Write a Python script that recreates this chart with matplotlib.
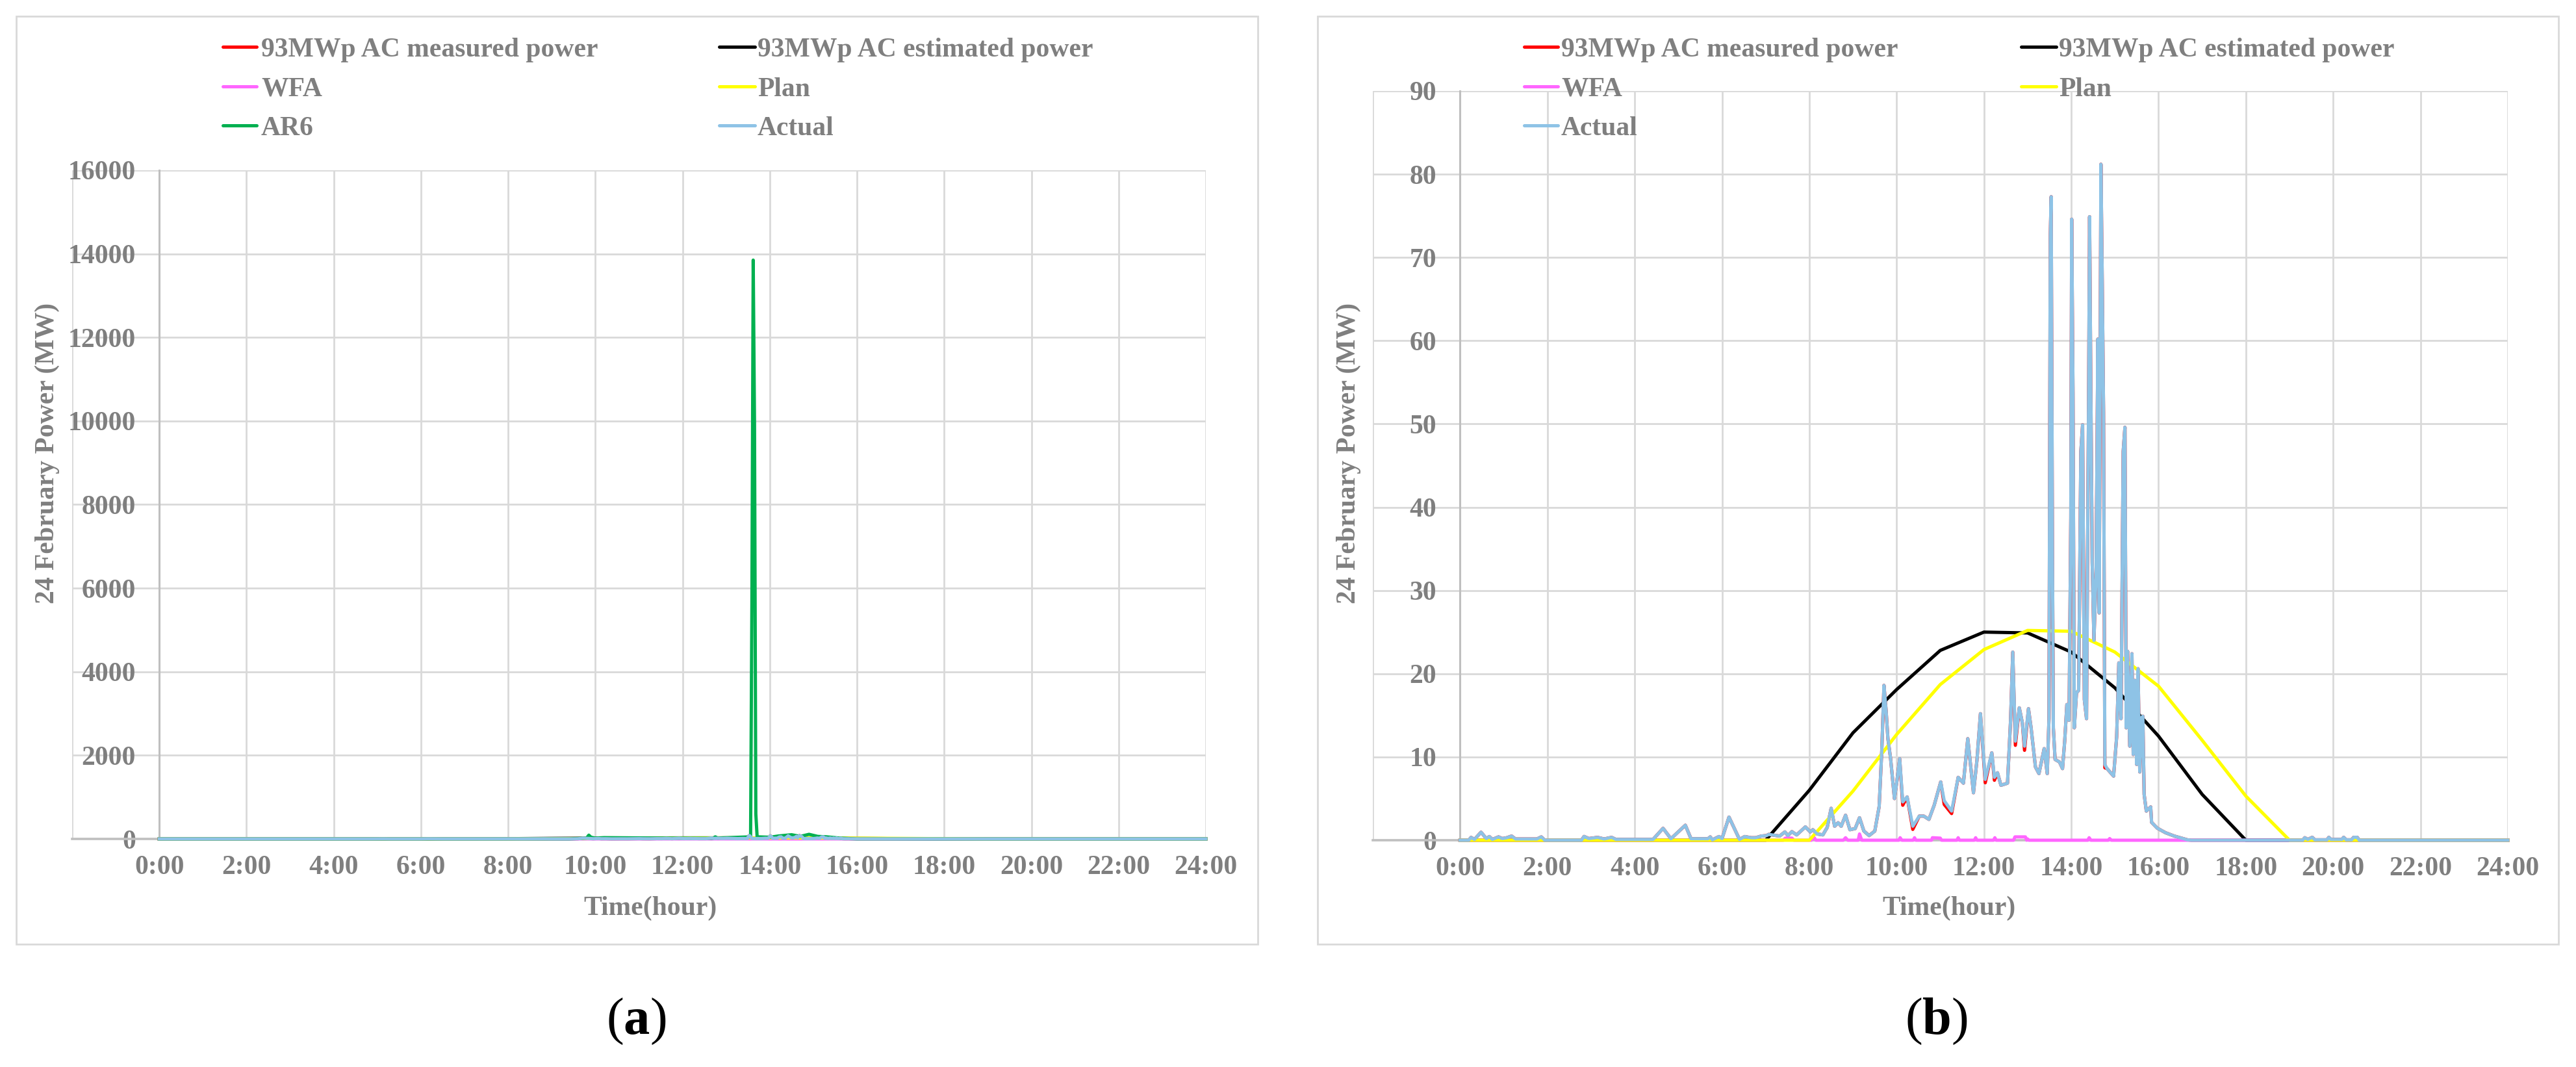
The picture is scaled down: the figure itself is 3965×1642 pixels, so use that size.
import matplotlib
matplotlib.use("Agg")
import matplotlib.pyplot as plt
from matplotlib.lines import Line2D
from matplotlib.patches import Rectangle

plt.rcParams['font.family'] = ['Liberation Serif', 'DejaVu Serif']
plt.rcParams['mathtext.fontset'] = 'custom'
plt.rcParams['mathtext.rm'] = 'Liberation Serif'
plt.rcParams['mathtext.bf'] = 'Liberation Serif:bold'

# ---------------- data ----------------
hour_ticks = [0, 2, 4, 6, 8, 10, 12, 14, 16, 18, 20, 22, 24]
hour_labels = ["0:00", "2:00", "4:00", "6:00", "8:00", "10:00", "12:00",
               "14:00", "16:00", "18:00", "20:00", "22:00", "24:00"]

hourly_t = [0, 1, 2, 3, 4, 5, 6, 7, 8, 9, 10, 11, 12, 13, 14, 15, 16, 17, 18,
            19, 20, 21, 22, 23, 24]
estimated_v = [0, 0, 0, 0, 0, 0, 0, 0, 6.0, 12.9, 18.1, 22.8, 25.0, 24.9, 22.6,
               18.3, 12.5, 5.5, 0, 0, 0, 0, 0, 0, 0]
plan_v = [0, 0, 0, 0, 0, 0, 0, 0, 0, 5.9, 12.7, 18.7, 22.9, 25.2, 25.1, 22.6,
          18.5, 12.0, 5.3, 0, 0, 0, 0, 0, 0]

actual_t = [0.00, 0.20, 0.25, 0.33, 0.48, 0.60, 0.67, 0.74, 0.88, 0.97, 1.07,
            1.18, 1.27, 1.76, 1.86, 1.94, 2.78, 2.84, 2.95, 3.15, 3.30, 3.47,
            3.57, 4.42, 4.65, 4.83, 5.16, 5.29, 5.68, 5.73, 5.78, 5.93, 6.00,
            6.16, 6.40, 6.52, 6.67, 6.77, 6.90, 7.02, 7.07, 7.20, 7.32, 7.44,
            7.51, 7.60, 7.71, 7.91, 8.02, 8.08, 8.18, 8.31, 8.41, 8.50, 8.58,
            8.66, 8.73, 8.83, 8.93, 9.05, 9.15, 9.25, 9.37, 9.50, 9.60, 9.66,
            9.71, 9.76, 9.80, 9.86, 9.95, 10.00, 10.07, 10.14, 10.24, 10.37,
            10.52, 10.62, 10.74, 10.86, 11.01, 11.09, 11.26, 11.41, 11.53,
            11.63, 11.76, 11.84, 11.92, 12.03, 12.18, 12.24, 12.31, 12.39,
            12.54, 12.61, 12.66, 12.72, 12.81, 12.88, 12.93, 13.02, 13.08,
            13.18, 13.26, 13.38, 13.45, 13.49, 13.52, 13.54, 13.57, 13.59,
            13.63, 13.73, 13.80, 13.85, 13.90, 13.95, 13.99, 14.01, 14.04,
            14.07, 14.12, 14.17, 14.22, 14.26, 14.30, 14.35, 14.40, 14.42,
            14.45, 14.48, 14.52, 14.57, 14.61, 14.64, 14.68, 14.71, 14.74,
            14.77, 14.82, 14.87, 14.97, 15.04, 15.09, 15.14, 15.19, 15.23,
            15.26, 15.29, 15.34, 15.39, 15.42, 15.46, 15.50, 15.53, 15.57,
            15.61, 15.64, 15.67, 15.72, 15.82, 15.84, 15.97, 16.16, 16.36,
            16.66, 16.75, 19.30, 19.35, 19.42, 19.52, 19.58, 19.86, 19.90,
            19.95, 20.20, 20.24, 20.30, 20.42, 20.47, 20.55, 20.60, 24.00]
actual_v = [0, 0, 0.34, 0.1, 0.96, 0.2, 0.44, 0.1, 0.4, 0.2, 0.3,
            0.5, 0.15, 0.15, 0.4, 0, 0, 0.45, 0.2, 0.34, 0.15, 0.34,
            0.1, 0.1, 1.43, 0.18, 1.8, 0.18, 0.18, 0.4, 0.05, 0.44, 0.2,
            2.78, 0.1, 0.44, 0.3, 0.3, 0.5, 0.56, 0.7, 0.6, 0.5, 1.0,
            0.56, 1.03, 0.64, 1.6, 1.0, 1.26, 0.75, 0.64, 1.54, 3.83, 1.68,
            2.1, 1.68, 3.0, 1.26, 1.4, 2.7, 1.1, 0.56, 1.1, 4.05, 10.8,
            18.6, 15.5, 12.2, 9.9, 5.0, 6.85, 9.8, 4.6, 5.2, 1.68,
            2.9, 2.9, 2.5, 4.2, 7.0, 4.75, 3.5, 7.55, 6.85,
            12.2, 5.7, 9.6, 15.2, 7.3, 10.5, 7.55, 8.1, 6.6,
            6.85, 14.4, 22.6, 11.9, 15.9, 14.1, 11.3, 15.8, 13.5,
            8.8, 8.0, 11.0, 8.0, 14.6, 72.6, 77.3, 34.0, 13.5,
            9.7, 9.4, 8.6, 11.9, 16.3, 14.4, 38.7, 74.6, 53.6,
            13.5, 17.7, 18.0, 46.7, 49.9, 16.9, 14.6, 55.2, 74.9,
            53.3, 33.4, 24.0, 32.3, 60.2, 27.3, 81.2, 67.1, 51.4,
            9.1, 8.6, 8.3, 7.7, 12.4, 21.3, 14.6, 46.7, 49.6,
            13.5, 22.7, 11.3, 22.4, 10.3, 19.2, 9.1, 20.6, 8.2,
            14.7, 14.9, 5.5, 3.5, 4.0, 2.15, 1.45, 0.9, 0.5,
            0.05, 0, 0, 0.3, 0.1, 0.35, 0.05, 0.05, 0.35,
            0.1, 0.1, 0.35, 0.05, 0.05, 0.35, 0.35, 0, 0]
measured_v = [0, 0, 0.34, 0.1, 0.96, 0.2, 0.44, 0.1, 0.4, 0.2, 0.3,
              0.5, 0.15, 0.15, 0.4, 0, 0, 0.45, 0.2, 0.34, 0.15, 0.34,
              0.1, 0.1, 1.43, 0.18, 1.8, 0.18, 0.18, 0.4, 0.05, 0.44, 0.2,
              2.78, 0.1, 0.44, 0.3, 0.3, 0.5, 0.56, 0.7, 0.6, 0.5, 1.0,
              0.56, 1.03, 0.64, 1.6, 1.0, 1.26, 0.75, 0.64, 1.54, 3.83, 1.68,
              2.1, 1.68, 3.0, 1.26, 1.4, 2.7, 1.1, 0.56, 1.1, 4.05, 10.8,
              18.6, 15.5, 12.2, 9.9, 5.0, 6.85, 9.8, 4.2, 5.2, 1.3,
              2.9, 2.9, 2.5, 4.2, 7.0, 4.3, 3.2, 7.55, 6.85,
              12.2, 5.7, 9.6, 15.2, 6.9, 10.5, 7.2, 8.1, 6.6,
              6.85, 14.4, 22.6, 11.4, 15.9, 14.1, 10.8, 15.8, 13.5,
              8.8, 8.0, 11.0, 8.0, 14.6, 72.6, 77.3, 34.0, 13.5,
              9.7, 9.4, 8.6, 11.9, 16.3, 14.4, 38.7, 74.6, 53.6,
              13.5, 17.7, 18.0, 46.7, 49.9, 16.9, 14.6, 55.2, 74.9,
              53.3, 33.4, 24.0, 32.3, 60.2, 27.3, 81.2, 67.1, 51.4,
              8.7, 8.6, 8.3, 7.7, 12.4, 21.3, 14.6, 46.7, 49.6,
              13.5, 22.7, 11.3, 22.4, 10.3, 19.2, 9.1, 20.6, 8.2,
              14.7, 14.9, 5.5, 3.5, 4.0, 2.15, 1.45, 0.9, 0.5,
              0.05, 0, 0, 0.3, 0.1, 0.35, 0.05, 0.05, 0.35,
              0.1, 0.1, 0.35, 0.05, 0.05, 0.35, 0.35, 0, 0]

wfa_t = [0, 7.40, 7.45, 7.60, 7.65, 8.05, 8.10, 8.15, 8.78, 8.83, 8.88, 9.12,
         9.15, 9.20, 10.05, 10.08, 10.12, 10.38, 10.41, 10.44, 10.80, 10.82,
         11.00, 11.03, 11.38, 11.41, 11.44, 11.78, 11.81, 11.84, 12.22, 12.25,
         12.28, 12.68, 12.71, 12.95, 12.98, 13.00, 13.03, 14.38, 14.41, 14.45,
         14.85, 14.88, 14.92, 16.60, 24.0]
wfa_v = [0, 0, 0.25, 0.25, 0, 0, 0.4, 0, 0, 0.3, 0, 0,
         0.75, 0, 0, 0.3, 0, 0, 0.3, 0, 0, 0.3,
         0.25, 0, 0, 0.3, 0, 0, 0.3, 0, 0, 0.3,
         0, 0, 0.4, 0.4, 0, 0.15, 0, 0, 0.3, 0,
         0, 0.2, 0, 0, 0]

ar6_t = [0, 9.40, 9.80, 9.85, 9.90, 10.00, 10.20, 11.50, 12.70, 12.75, 12.80,
         13.30, 13.56, 13.59, 13.62, 13.65, 13.68, 13.71, 14.00, 14.20, 14.50,
         14.70, 14.90, 15.10, 15.30, 15.60, 16.00, 24.0]
ar6_v = [0, 0, 20, 90, 40, 20, 30, 20, 15, 50, 20,
         40, 50, 5630, 13850, 9890, 600, 50, 40, 70, 100,
         60, 110, 60, 50, 20, 0, 0]

yticks_a = [0, 2000, 4000, 6000, 8000, 10000, 12000, 14000, 16000]
yticks_b = [0, 10, 20, 30, 40, 50, 60, 70, 80, 90]

legend_a = ["93MWp AC measured power", "93MWp AC estimated power", "WFA",
            "Plan", "AR6", "Actual"]
legend_b = ["93MWp AC measured power", "93MWp AC estimated power", "WFA",
            "Plan", "Actual"]

# ---------------- styles ----------------
C_MEAS, C_EST, C_WFA, C_PLAN, C_AR6, C_ACT = ('#ff0000', '#000000', '#ff66ff',
                                              '#ffff00', '#00b050', '#8ec3e6')
TXT = '#7f7f7f'
GRID = '#d9d9d9'
AXL = '#bfbfbf'
LW = 3.6
FS = 30

W, H = 3965, 1642
fig = plt.figure(figsize=(W / 100, H / 100), dpi=100)


def fx(px):
    return px / W


def fy(py):
    return 1 - py / H


def make_axes(left, right, top, bottom):
    return fig.add_axes([fx(left), fy(bottom), fx(right) - fx(left),
                         fy(top) - fy(bottom)])


def style(ax, yticks, ymax):
    ax.set_xlim(-2, 24)
    ax.set_ylim(0, ymax)
    xt = [-2] + hour_ticks
    ax.set_xticks(xt, [""] + hour_labels)
    ax.set_yticks(yticks, [str(v) for v in yticks])
    ax.grid(True, color=GRID, lw=2.0)
    ax.set_axisbelow(True)
    for s in ['top', 'right']:
        ax.spines[s].set_visible(False)
    ax.spines['left'].set_position(('data', 0))
    ax.spines['left'].set_color(AXL)
    ax.spines['left'].set_linewidth(2.2)
    ax.spines['left'].set_zorder(0.6)
    ax.spines['bottom'].set_color(AXL)
    ax.spines['bottom'].set_linewidth(2.6)
    ax.spines['bottom'].set_zorder(0.6)
    ax.tick_params(axis='both', length=0, labelsize=FS, labelcolor=TXT)
    ax.tick_params(axis='x', pad=18)
    ax.tick_params(axis='y', pad=26)
    for lab in ax.get_xticklabels() + ax.get_yticklabels():
        lab.set_fontweight('bold')


def legend(entries, colors, col_x, row_y):
    for i, (lab, col) in enumerate(zip(entries, colors)):
        r, c = divmod(i, 2)
        hx0, hx1, tx = col_x[c]
        y = row_y[r]
        fig.add_artist(Line2D([fx(hx0), fx(hx1)], [fy(y), fy(y)], color=col,
                              lw=LW, solid_capstyle='round',
                              transform=fig.transFigure))
        fig.text(fx(tx), fy(y), lab, color=TXT, fontsize=FS, fontweight='bold',
                 va='center_baseline', ha='left')


# panel frames
for x0, x1 in [(25, 1936), (2028, 3938)]:
    fig.add_artist(Rectangle((fx(x0), fy(1453)), fx(x1) - fx(x0),
                             fy(25) - fy(1453), transform=fig.transFigure,
                             fill=False, edgecolor=GRID, lw=2.0))

# ---------------- panel (a) ----------------
axa = make_axes(111, 1856, 262, 1291)
style(axa, yticks_a, 16000)
axa.plot(actual_t, measured_v, color=C_MEAS, lw=LW, clip_on=False)
axa.plot(hourly_t, estimated_v, color=C_EST, lw=LW, clip_on=False)
axa.plot(wfa_t, wfa_v, color=C_WFA, lw=LW, clip_on=False)
axa.plot(hourly_t, plan_v, color=C_PLAN, lw=LW, clip_on=False)
axa.plot(ar6_t, ar6_v, color=C_AR6, lw=LW, clip_on=False)
axa.plot(actual_t, actual_v, color=C_ACT, lw=LW, clip_on=False)

fig.text(fx(73), fy(697), "24 February Power (MW)", rotation=90, color=TXT,
         fontsize=FS, fontweight='bold', ha='center', va='center')
fig.text(fx(1001), fy(1398), "Time(hour)", color=TXT, fontsize=FS,
         fontweight='bold', ha='center', va='center')
legend(legend_a, [C_MEAS, C_EST, C_WFA, C_PLAN, C_AR6, C_ACT],
       [(343, 395, 402), (1107, 1162, 1166)], [72, 133, 193])
fig.text(fx(979), fy(1572), r"($\mathbf{a}$)", color='black', fontsize=58,
         ha='center', va='center')

# ---------------- panel (b) ----------------
axb = make_axes(2113, 3860, 140, 1293)
style(axb, yticks_b, 90)
axb.plot(actual_t, measured_v, color=C_MEAS, lw=LW, clip_on=False)
axb.plot(hourly_t, estimated_v, color=C_EST, lw=LW, clip_on=False)
axb.plot(wfa_t, wfa_v, color=C_WFA, lw=LW, clip_on=False)
axb.plot(hourly_t, plan_v, color=C_PLAN, lw=LW, clip_on=False)
axb.plot(actual_t, actual_v, color=C_ACT, lw=LW, clip_on=False)

fig.text(fx(2076), fy(697), "24 February Power (MW)", rotation=90, color=TXT,
         fontsize=FS, fontweight='bold', ha='center', va='center')
fig.text(fx(3000), fy(1398), "Time(hour)", color=TXT, fontsize=FS,
         fontweight='bold', ha='center', va='center')
legend(legend_b, [C_MEAS, C_EST, C_WFA, C_PLAN, C_ACT],
       [(2346, 2398, 2403), (3111, 3165, 3169)], [72, 133, 193])
fig.text(fx(2980), fy(1572), r"($\mathbf{b}$)", color='black', fontsize=58,
         ha='center', va='center')

fig.savefig("out.png", dpi=100, facecolor='white')
